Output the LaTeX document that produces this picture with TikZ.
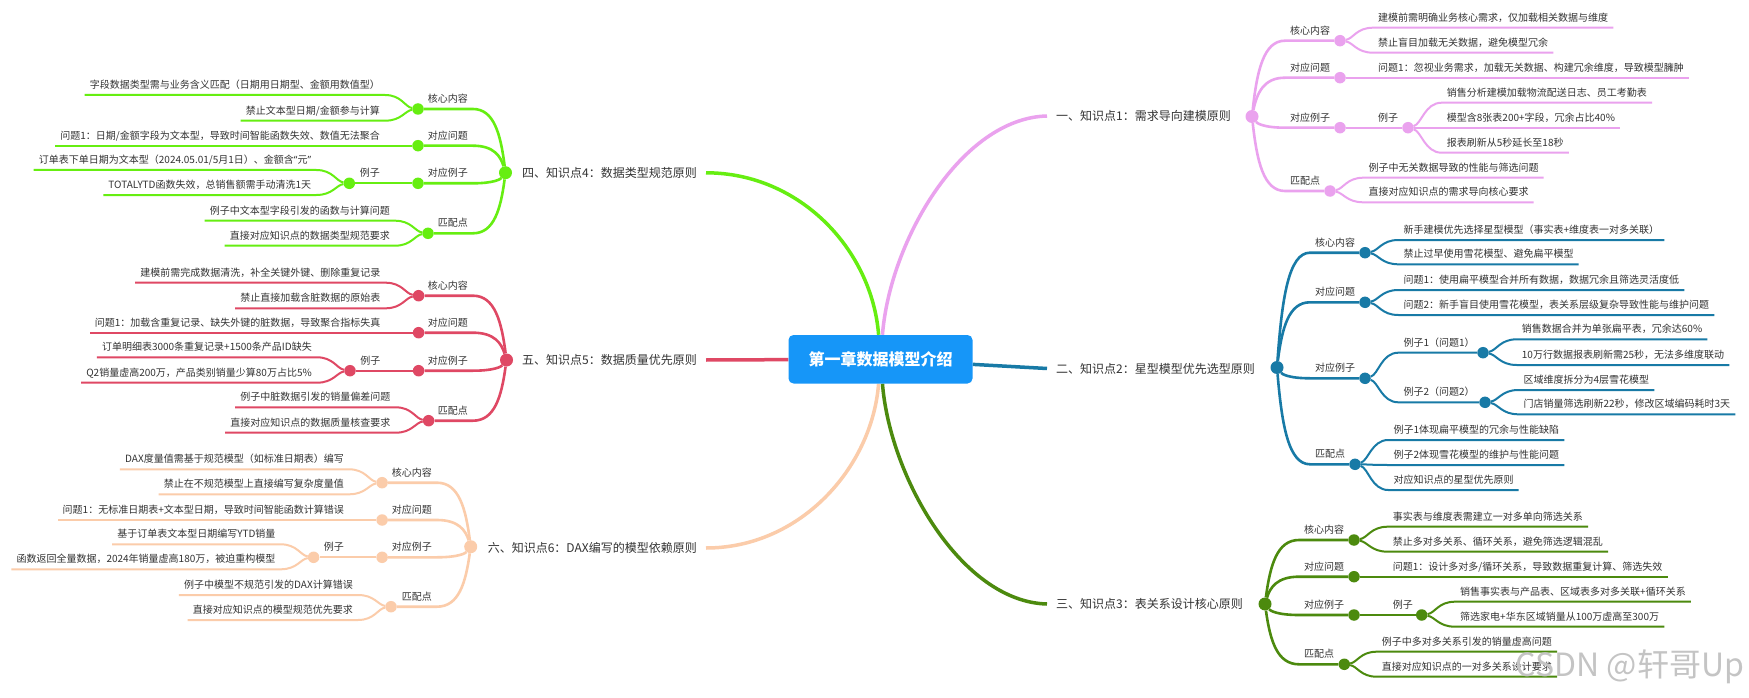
\documentclass[tikz,border=0pt]{standalone}
\usepackage{fontspec}
\setmainfont{Noto Sans CJK SC}
\newfontfamily\latinq{Noto Sans}
\usetikzlibrary{calc}
\pgfdeclarelayer{back}
\pgfdeclarelayer{bg}
\pgfsetlayers{back,bg,main}
\definecolor{cA}{RGB}{234,162,238}
\definecolor{cB}{RGB}{24,122,166}
\definecolor{cC}{RGB}{76,138,14}
\definecolor{cD}{RGB}{102,238,17}
\definecolor{cE}{RGB}{223,72,100}
\definecolor{cF}{RGB}{251,204,170}
\definecolor{cRoot}{RGB}{22,150,248}
\definecolor{tx}{RGB}{51,51,51}
\definecolor{wmc}{RGB}{196,196,196}
\begin{document}
\begin{tikzpicture}[x=1pt,y=-1pt,
  root/.style={fill=cRoot, rounded corners=5pt, minimum width=184pt, minimum height=48.5pt,
    text=white, font=\fontsize{16}{18}\selectfont\bfseries, inner sep=0pt, text height=14.08pt, text depth=1.92pt},
  l1/.style={font=\fontsize{12}{14}\selectfont, text=tx, inner xsep=9pt, inner ysep=0pt, text height=10.56pt, text depth=1.44pt},
  l1r/.style={l1, anchor=west},
  l1l/.style={l1, anchor=east},
  lb/.style={font=\fontsize{10}{12}\selectfont, text=tx, inner xsep=5pt, inner ysep=5pt, text height=8.8pt, text depth=1.2pt},
  lr/.style={lb, anchor=south west},
  ll/.style={lb, anchor=south east},
  dotn/.style={circle, inner sep=0pt, minimum size=11.5pt},
  bigdot/.style={minimum size=13pt},
  dA/.style={dotn, fill=cA}, dB/.style={dotn, fill=cB}, dC/.style={dotn, fill=cC},
  dD/.style={dotn, fill=cD}, dE/.style={dotn, fill=cE}, dF/.style={dotn, fill=cF},
  ln0/.style={line width=3.5pt},
  ln1/.style={line width=2.6pt},
  ln2/.style={line width=2pt},
  mmA/.style={to path={let \p1=(\tikztostart), \p2=(\tikztotarget) in
     .. controls ({\x1+0.15*(\x2-\x1)},{\y1+0.6*(\y2-\y1)}) and ({\x1+0.35*(\x2-\x1)},\y2) .. (\tikztotarget) \tikztonodes}},
  mmB/.style={to path={let \p1=(\tikztostart), \p2=(\tikztotarget) in
     .. controls ({\x1+0.4*(\x2-\x1)},{\y1+0.15*(\y2-\y1)}) and ({\x1+0.5*(\x2-\x1)},\y2) .. (\tikztotarget) \tikztonodes}},
  wm/.style={font=\fontsize{32}{36}\selectfont, text=wmc, inner sep=0pt}
]
\useasboundingbox (0,0) rectangle (1749,698);
\begin{pgfonlayer}{back}
\fill[white] (0,0) rectangle (1749,698);
\end{pgfonlayer}

% ---------- root ----------
\node[root] (root) at (880.5,359.25) {第一章数据模型介绍};

% ---------- branch A (pink) ----------
\node[l1r] (A) at (1047,116) {一、知识点1：需求导向建模原则};
\node[dA,bigdot] (Ad) at (1252,116.5) {};
\node[lr] (A1) at (1285,40.7) {核心内容};  \node[dA] (A1d) at (1340,40.7) {};
\node[lr] (A11) at (1373,27.7) {建模前需明确业务核心需求，仅加载相关数据与维度};
\node[lr] (A12) at (1373,52.7) {禁止盲目加载无关数据，避免模型冗余};
\node[lr] (A2) at (1285,77.7) {对应问题};  \node[dA] (A2d) at (1340,77.7) {};
\node[lr] (A21) at (1373,77.7) {问题1：忽视业务需求，加载无关数据、构建冗余维度，导致模型臃肿};
\node[lr] (A3) at (1285,127.7) {对应例子}; \node[dA] (A3d) at (1340,127.7) {};
\node[lr] (A31) at (1373,127.7) {例子}; \node[dA] (A31d) at (1408,127.7) {};
\node[lr] (A311) at (1441.7,102.7) {销售分析建模加载物流配送日志、员工考勤表};
\node[lr] (A312) at (1441.7,127.7) {模型含8张表200+字段，冗余占比40\%};
\node[lr] (A313) at (1441.7,152.7) {报表刷新从5秒延长至18秒};
\node[lr] (A4) at (1285,191) {匹配点}; \node[dA] (A4d) at (1330,191) {};
\node[lr] (A41) at (1363.3,177.7) {例子中无关数据导致的性能与筛选问题};
\node[lr] (A42) at (1363.3,202.3) {直接对应知识点的需求导向核心要求};

% ---------- branch B (blue) ----------
\node[l1r] (B) at (1047,368.5) {二、知识点2：星型模型优先选型原则};
\node[dB,bigdot] (Bd) at (1277,367.5) {};
\node[lr] (B1) at (1310,252.7) {核心内容}; \node[dB] (B1d) at (1365,252.7) {};
\node[lr] (B11) at (1398.3,240) {新手建模优先选择星型模型（事实表+维度表一对多关联）};
\node[lr] (B12) at (1398.3,264.3) {禁止过早使用雪花模型、避免扁平模型};
\node[lr] (B2) at (1310,302.3) {对应问题}; \node[dB] (B2d) at (1365,302.3) {};
\node[lr] (B21) at (1398.3,290) {问题1：使用扁平模型合并所有数据，数据冗余且筛选灵活度低};
\node[lr] (B22) at (1398.3,315) {问题2：新手盲目使用雪花模型，表关系层级复杂导致性能与维护问题};
\node[lr] (B3) at (1310,378.3) {对应例子}; \node[dB] (B3d) at (1365,378.3) {};
\node[lr] (B31) at (1398.3,352.7) {例子1（问题1）}; \node[dB] (B31d) at (1483,352.7) {};
\node[lr] (B311) at (1516.7,339.3) {销售数据合并为单张扁平表，冗余达60\%};
\node[lr] (B312) at (1516.7,365) {10万行数据报表刷新需25秒，无法多维度联动};
\node[lr] (B32) at (1398.3,402.3) {例子2（问题2）}; \node[dB] (B32d) at (1485,402.3) {};
\node[lr] (B321) at (1518.3,390) {区域维度拆分为4层雪花模型};
\node[lr] (B322) at (1518.3,414.3) {门店销量筛选刷新22秒，修改区域编码耗时3天};
\node[lr] (B4) at (1310,464.3) {匹配点}; \node[dB] (B4d) at (1355,464.3) {};
\node[lr] (B41) at (1388.3,440) {例子1体现扁平模型的冗余与性能缺陷};
\node[lr] (B42) at (1388.3,465) {例子2体现雪花模型的维护与性能问题};
\node[lr] (B43) at (1388.3,490) {对应知识点的星型优先原则};

% ---------- branch C (dark green) ----------
\node[l1r] (C) at (1047,604) {三、知识点3：表关系设计核心原则};
\node[dC,bigdot] (Cd) at (1265,604) {};
\node[lr] (C1) at (1299,540) {核心内容}; \node[dC] (C1d) at (1354,540) {};
\node[lr] (C11) at (1387.7,526.7) {事实表与维度表需建立一对多单向筛选关系};
\node[lr] (C12) at (1387.7,551.7) {禁止多对多关系、循环关系，避免筛选逻辑混乱};
\node[lr] (C2) at (1299,576.7) {对应问题}; \node[dC] (C2d) at (1354,576.7) {};
\node[lr] (C21) at (1387.7,576.7) {问题1：设计多对多/循环关系，导致数据重复计算、筛选失效};
\node[lr] (C3) at (1299,615) {对应例子}; \node[dC] (C3d) at (1354,615) {};
\node[lr] (C31) at (1387.7,615) {例子}; \node[dC] (C31d) at (1421.7,615) {};
\node[lr] (C311) at (1455,601.7) {销售事实表与产品表、区域表多对多关联+循环关系};
\node[lr] (C312) at (1455,626.7) {筛选家电+华东区域销量从100万虚高至300万};
\node[lr] (C4) at (1299,664.3) {匹配点}; \node[dC] (C4d) at (1344.3,664.3) {};
\node[lr] (C41) at (1376.7,651.7) {例子中多对多关系引发的销量虚高问题};
\node[lr] (C42) at (1376.7,676.7) {直接对应知识点的一对多关系设计要求};

% ---------- branch D (bright green, left) ----------
\node[l1l] (D) at (706,172.8) {四、知识点4：数据类型规范原则};
\node[dD,bigdot] (Dd) at (505.5,172.7) {};
\node[ll] (D1) at (473,109) {核心内容}; \node[dD] (D1d) at (418,109) {};
\node[ll] (D11) at (385,95) {字段数据类型需与业务含义匹配（日期用日期型、金额用数值型）};
\node[ll] (D12) at (385,120.7) {禁止文本型日期/金额参与计算};
\node[ll] (D2) at (473,145.7) {对应问题}; \node[dD] (D2d) at (418,145.7) {};
\node[ll] (D21) at (385,145.7) {问题1：日期/金额字段为文本型，导致时间智能函数失效、数值无法聚合};
\node[ll] (D3) at (473,183.3) {对应例子}; \node[dD] (D3d) at (418,183.3) {};
\node[ll] (D31) at (385,183.3) {例子}; \node[dD] (D31d) at (349.3,183.3) {};
\node[ll] (D311) at (316.3,170) {订单表下单日期为文本型（2024.05.01/5月1日）、金额含{\latinq “}元{\latinq ”}};
\node[ll] (D312) at (316.3,195) {TOTALYTD函数失效，总销售额需手动清洗1天};
\node[ll] (D4) at (473,233.3) {匹配点}; \node[dD] (D4d) at (428,233.3) {};
\node[ll] (D41) at (395,220.7) {例子中文本型字段引发的函数与计算问题};
\node[ll] (D42) at (395,245.7) {直接对应知识点的数据类型规范要求};

% ---------- branch E (red, left) ----------
\node[l1l] (E) at (706,360) {五、知识点5：数据质量优先原则};
\node[dE,bigdot] (Ed) at (506.5,360) {};
\node[ll] (E1) at (473,295.7) {核心内容}; \node[dE] (E1d) at (418.6,295.7) {};
\node[ll] (E11) at (385.6,282.7) {建模前需完成数据清洗，补全关键外键、删除重复记录};
\node[ll] (E12) at (385.6,308.3) {禁止直接加载含脏数据的原始表};
\node[ll] (E2) at (473,332.7) {对应问题}; \node[dE] (E2d) at (418.6,332.7) {};
\node[ll] (E21) at (385.6,332.7) {问题1：加载含重复记录、缺失外键的脏数据，导致聚合指标失真};
\node[ll] (E3) at (473,370.7) {对应例子}; \node[dE] (E3d) at (418.6,370.7) {};
\node[ll] (E31) at (385.6,370.7) {例子}; \node[dE] (E31d) at (350,370.7) {};
\node[ll] (E311) at (317,357.3) {订单明细表3000条重复记录+1500条产品ID缺失};
\node[ll] (E312) at (317,382.7) {Q2销量虚高200万，产品类别销量少算80万占比5\%};
\node[ll] (E4) at (473,420.7) {匹配点}; \node[dE] (E4d) at (428.6,420.7) {};
\node[ll] (E41) at (395.6,407.3) {例子中脏数据引发的销量偏差问题};
\node[ll] (E42) at (395.6,432.7) {直接对应知识点的数据质量核查要求};

% ---------- branch F (peach, left) ----------
\node[l1l] (F) at (706,548) {六、知识点6：DAX编写的模型依赖原则};
\node[dF,bigdot] (Fd) at (470.7,546.7) {};
\node[ll] (F1) at (437,482.7) {核心内容}; \node[dF] (F1d) at (382.1,482.7) {};
\node[ll] (F11) at (349,469.3) {DAX度量值需基于规范模型（如标准日期表）编写};
\node[ll] (F12) at (349,494.3) {禁止在不规范模型上直接编写复杂度量值};
\node[ll] (F2) at (437,520) {对应问题}; \node[dF] (F2d) at (382.1,520) {};
\node[ll] (F21) at (349,520) {问题1：无标准日期表+文本型日期，导致时间智能函数计算错误};
\node[ll] (F3) at (437,557.3) {对应例子}; \node[dF] (F3d) at (382.1,557.3) {};
\node[ll] (F31) at (349,557.3) {例子}; \node[dF] (F31d) at (313.6,557.3) {};
\node[ll] (F311) at (280.6,544.3) {基于订单表文本型日期编写YTD销量};
\node[ll] (F312) at (280.6,569.3) {函数返回全量数据，2024年销量虚高180万，被迫重构模型};
\node[ll] (F4) at (437,606.7) {匹配点}; \node[dF] (F4d) at (391,606.7) {};
\node[ll] (F41) at (358,595) {例子中模型不规范引发的DAX计算错误};
\node[ll] (F42) at (358,620) {直接对应知识点的模型规范优先要求};

% watermark
\node[wm] (wm) at (1630,667) {CSDN @轩哥Up};

% ================= connectors =================
\begin{pgfonlayer}{bg}
% main branches
\draw[ln0,cA] (root) .. controls (890,240) and (962,118) .. (A.west);
\draw[ln0,cB] (root) -- (B.west);
\draw[ln0,cC] (root) .. controls (890,478) and (962,602) .. (C.west);
\draw[ln0,cD] (root) .. controls (872,250) and (800,172.8) .. (D.east);
\draw[ln0,cE] (root) -- (E.east);
\draw[ln0,cF] (root) .. controls (872,468) and (800,548) .. (F.east);

% A
\begin{scope}[cA]
\foreach \k in {A1,A2,A3,A4} \draw[ln1] (Ad) to[mmA] (\k.south west) -- (\k d);
\draw[ln2] (A3d) to[mmB] (A31.south west) -- (A31d);
\foreach \p/\k in {A1d/A11,A1d/A12,A2d/A21,A31d/A311,A31d/A312,A31d/A313,A4d/A41,A4d/A42}
  \draw[ln2] (\p) to[mmB] (\k.south west) -- (\k.south east);
\end{scope}
% B
\begin{scope}[cB]
\foreach \k in {B1,B2,B3,B4} \draw[ln1] (Bd) to[mmA] (\k.south west) -- (\k d);
\draw[ln2] (B3d) to[mmB] (B31.south west) -- (B31d);
\draw[ln2] (B3d) to[mmB] (B32.south west) -- (B32d);
\foreach \p/\k in {B1d/B11,B1d/B12,B2d/B21,B2d/B22,B31d/B311,B31d/B312,B32d/B321,B32d/B322,B4d/B41,B4d/B42,B4d/B43}
  \draw[ln2] (\p) to[mmB] (\k.south west) -- (\k.south east);
\end{scope}
% C
\begin{scope}[cC]
\foreach \k in {C1,C2,C3,C4} \draw[ln1] (Cd) to[mmA] (\k.south west) -- (\k d);
\draw[ln2] (C3d) to[mmB] (C31.south west) -- (C31d);
\foreach \p/\k in {C1d/C11,C1d/C12,C2d/C21,C31d/C311,C31d/C312,C4d/C41,C4d/C42}
  \draw[ln2] (\p) to[mmB] (\k.south west) -- (\k.south east);
\end{scope}
% D
\begin{scope}[cD]
\foreach \k in {D1,D2,D3,D4} \draw[ln1] (Dd) to[mmA] (\k.south east) -- (\k d);
\draw[ln2] (D3d) to[mmB] (D31.south east) -- (D31d);
\foreach \p/\k in {D1d/D11,D1d/D12,D2d/D21,D31d/D311,D31d/D312,D4d/D41,D4d/D42}
  \draw[ln2] (\p) to[mmB] (\k.south east) -- (\k.south west);
\end{scope}
% E
\begin{scope}[cE]
\foreach \k in {E1,E2,E3,E4} \draw[ln1] (Ed) to[mmA] (\k.south east) -- (\k d);
\draw[ln2] (E3d) to[mmB] (E31.south east) -- (E31d);
\foreach \p/\k in {E1d/E11,E1d/E12,E2d/E21,E31d/E311,E31d/E312,E4d/E41,E4d/E42}
  \draw[ln2] (\p) to[mmB] (\k.south east) -- (\k.south west);
\end{scope}
% F
\begin{scope}[cF]
\foreach \k in {F1,F2,F3,F4} \draw[ln1] (Fd) to[mmA] (\k.south east) -- (\k d);
\draw[ln2] (F3d) to[mmB] (F31.south east) -- (F31d);
\foreach \p/\k in {F1d/F11,F1d/F12,F2d/F21,F31d/F311,F31d/F312,F4d/F41,F4d/F42}
  \draw[ln2] (\p) to[mmB] (\k.south east) -- (\k.south west);
\end{scope}
\end{pgfonlayer}
\end{tikzpicture}
\end{document}
